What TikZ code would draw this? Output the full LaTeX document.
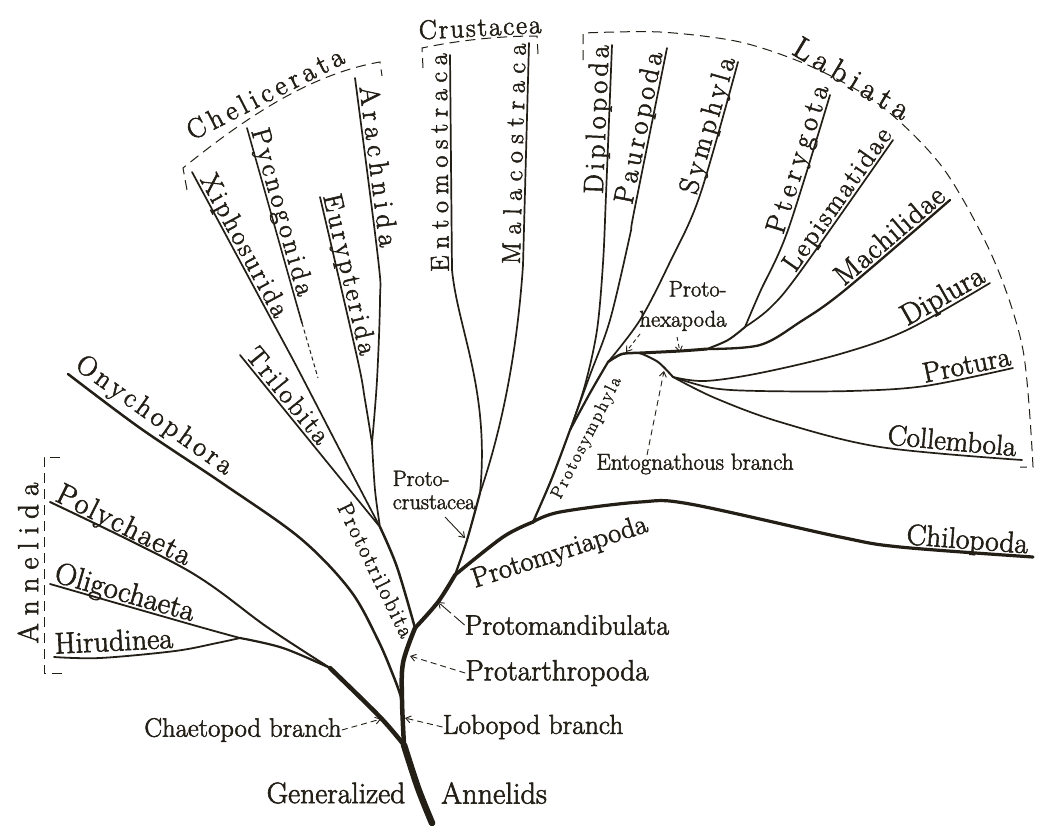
\documentclass[tikz,border=0pt]{standalone}
\usepackage{fontspec}
\setmainfont{lmroman17-regular.otf}[FakeBold=2]
\usetikzlibrary{arrows.meta}
\definecolor{ink}{HTML}{231F17}
\newcommand{\labfont}[1]{\fontsize{#1}{#1}\selectfont}
\makeatletter
\newcommand\spaced[2]{\def\spaced@gap{#1}\spaced@first#2\relax}
\def\spaced@first#1{#1\spaced@loop}
\def\spaced@loop#1{\ifx#1\relax\else\kern\spaced@gap\relax#1\expandafter\spaced@loop\fi}
\makeatother
\tikzset{
  br/.style={draw=ink, line cap=round, line join=round},
  tx/.style={text=ink, inner sep=0pt},
  tl/.style={text=ink, sloped, allow upside down, anchor=south, text depth=0pt, inner xsep=0pt, inner ysep=3pt},
  ann/.style={draw=ink, line width=0.9pt, dash pattern=on 6pt off 4pt, -{Straight Barb[length=5pt,width=7pt]}},
  annsolid/.style={draw=ink, line width=0.9pt, -{Straight Barb[length=5pt,width=7pt]}},
  brk/.style={draw=ink, line width=1pt, dash pattern=on 10pt off 6pt},
  sm/.style={smooth, tension=0.55},
}
\begin{document}
\begin{tikzpicture}[x=1pt, y=-1pt]
\fill[white] (0,0) rectangle (1048,825);
\useasboundingbox (0,0) rectangle (1048,825);

% ---------- branch points ----------
\coordinate (R0) at (432,823);
\coordinate (S1) at (404,745);
\coordinate (C1) at (330,668);
\coordinate (C2) at (240,638);
\coordinate (O1) at (402,700);
\coordinate (P1) at (415,628);
\coordinate (T1) at (380,527);
\coordinate (A1) at (372,443);
\coordinate (K1) at (455,575);
\coordinate (K2) at (480,493);
\coordinate (M1) at (533,522);
\coordinate (M2) at (570,430);
\coordinate (M3) at (608,362);
\coordinate (H0) at (640,353);
\coordinate (H1) at (707,349);
\coordinate (H2) at (745,327);
\coordinate (E1) at (673,377);
% ---------- end points (e) and label knees (k) ----------
\coordinate (ePoly) at (50,502);   \coordinate (kPoly) at (187,570);
\coordinate (eOligo) at (50,584);  \coordinate (kOligo) at (193,625);
\coordinate (eHiru) at (54,657);   \coordinate (kHiru) at (175,651);
\coordinate (eOny) at (68,374);    \coordinate (kOny) at (222,483);
\coordinate (eTri) at (240,355);   \coordinate (kTri) at (318,451);
\coordinate (eXip) at (192,172);   \coordinate (kXip) at (277,330);
\coordinate (ePyc) at (247,128);   \coordinate (kPyc) at (296,302);
\coordinate (ePycS) at (302,323);  \coordinate (ePycD) at (318,378);
\coordinate (eEur) at (320,197);   \coordinate (kEur) at (357,357);
\coordinate (eAra) at (355,78);    \coordinate (kAra) at (378,258);
\coordinate (eEnt) at (450,55);    \coordinate (kEnt) at (452,270);
\coordinate (eMal) at (529,43);    \coordinate (kMal) at (523,265);
\coordinate (eDip) at (612,45);    \coordinate (kDip) at (606,195);
\coordinate (ePau) at (667,48);    \coordinate (kPau) at (634,212);
\coordinate (eSym) at (738,62);    \coordinate (kSym) at (700,195);
\coordinate (ePte) at (830,95);    \coordinate (kPte) at (788,230);
\coordinate (eLep) at (893,140);   \coordinate (kLep) at (800,272);
\coordinate (eMac) at (950,200);   \coordinate (kMac) at (845,290);
\coordinate (eDipl) at (990,283);  \coordinate (kDipl) at (907,330);
\coordinate (ePro) at (1013,368);  \coordinate (kPro) at (925,386);
\coordinate (eCol) at (1022,460);  \coordinate (kCol) at (880,447);
\coordinate (eChi) at (1033,557);  \coordinate (kChi) at (900,547);

% ---------- trunk and main stems ----------
\draw[br, line width=6.5pt] plot[sm] coordinates {(R0) (418,788) (S1)};
\draw[br, line width=4.5pt] plot[sm] coordinates {(S1) (380,717) (C1)};
\draw[br, line width=4.5pt] plot[sm] coordinates {(S1) (O1) (403,663) (P1)};
\draw[br, line width=4pt] plot[sm] coordinates {(P1) (438,602) (K1)};
\draw[br, line width=3.5pt] plot[sm] coordinates {(K1) (503,537) (M1)};
\draw[br, line width=3.2pt] plot[sm] coordinates {(M1) (560,512) (640,502) (690,504) (840,537) (kChi) (eChi)};

% ---------- annelids ----------
\draw[br, line width=2pt] plot[sm] coordinates {(C1) (267,627) (kPoly) (ePoly)};
\draw[br, line width=2.2pt] plot[sm] coordinates {(C1) (283,648) (C2)};
\draw[br, line width=1.8pt] plot[sm] coordinates {(C2) (kOligo) (eOligo)};
\draw[br, line width=1.8pt] plot[sm] coordinates {(C2) (217,643) (kHiru) (100,658) (eHiru)};

% ---------- onychophora ----------
\draw[br, line width=2.5pt] plot[sm] coordinates {(O1) (395,680) (378,640) (350,590) (300,538) (kOny) (140,428) (eOny)};

% ---------- trilobites & chelicerates ----------
\draw[br, line width=2.5pt] plot[sm] coordinates {(P1) (397,567) (T1)};
\draw[br, line width=1.7pt] plot[sm] coordinates {(T1) (kTri) (eTri)};
\draw[br, line width=1.7pt] plot[sm] coordinates {(T1) (345,460) (300,373) (kXip) (eXip)};
\draw[br, line width=1.7pt] plot[sm] coordinates {(T1) (375,490) (A1)};
\draw[br, line width=1.7pt] plot[sm] coordinates {(A1) (365,400) (kEur) (eEur)};
\draw[br, line width=1.7pt] plot[sm] coordinates {(A1) (377,380) (380,300) (kAra) (eAra)};
\draw[br, line width=1.6pt] (ePyc) -- (kPyc) -- (ePycS);
\draw[draw=ink, line width=1pt, dash pattern=on 4pt off 3pt] (ePycS) -- (ePycD);

% ---------- crustaceans ----------
\draw[br, line width=2.2pt] plot[sm] coordinates {(K1) (467,540) (K2)};
\draw[br, line width=1.7pt] (eEnt) -- (kEnt) .. controls (458,330) and (490,390) .. (K2);
\draw[br, line width=1.7pt] (eMal) -- (kMal) .. controls (518,340) and (505,420) .. (K2);

% ---------- myriapods ----------
\draw[br, line width=2.2pt] plot[sm] coordinates {(M1) (552,478) (M2)};
\draw[br, line width=2.2pt] plot[sm] coordinates {(M2) (590,393) (M3)};
\draw[br, line width=2.5pt] plot[sm] coordinates {(M3) (622,354) (H0)};
\draw[br, line width=1.7pt] plot[sm] coordinates {(M2) (585,385) (597,330) (603,263) (kDip) (eDip)};
\draw[br, line width=1.7pt] plot[sm] coordinates {(M2) (590,375) (610,320) (630,235) (kPau) (ePau)};
\draw[br, line width=1.7pt] plot[sm] coordinates {(M3) (640,320) (670,262) (kSym) (eSym)};

% ---------- hexapods ----------
\draw[br, line width=3pt] plot[sm] coordinates {(H0) (680,351) (H1)};
\draw[br, line width=2.3pt] plot[sm] coordinates {(H1) (760,345) (800,322) (kMac) (eMac)};
\draw[br, line width=2pt] plot[sm] coordinates {(H1) (728,340) (H2)};
\draw[br, line width=1.7pt] plot[sm] coordinates {(H2) (760,292) (kPte) (ePte)};
\draw[br, line width=1.7pt] plot[sm] coordinates {(H2) (770,308) (kLep) (eLep)};
\draw[br, line width=2pt] plot[sm] coordinates {(H0) (658,362) (E1)};
\draw[br, line width=1.7pt] plot[sm] coordinates {(E1) (705,381) (760,373) (840,354) (kDipl) (eDipl)};
\draw[br, line width=1.7pt] plot[sm] coordinates {(E1) (712,388) (760,391) (850,391) (kPro) (ePro)};
\draw[br, line width=1.7pt] plot[sm] coordinates {(E1) (715,398) (780,422) (kCol) (eCol)};

% ---------- brackets ----------
\draw[brk] (60,457) -- (44,457) -- (44,673) -- (62,673);
\draw[brk] (187,190) -- (183,168) .. controls (245,118) and (310,74) .. (380,62) -- (382,76);
\draw[brk] (423,68) -- (422,48) .. controls (460,40) and (500,36) .. (537,36) -- (538,54);
\draw[brk] (583,60) -- (583,33) -- plot[smooth] coordinates {(583,33) (660,32) (740,42) (810,66) (880,105) (943,168) (993,258) (1023,350) (1033,467)} -- (1020,467);

% ---------- taxon labels sitting on their branches ----------
\path (ePoly) -- node[tl, font=\labfont{30}] (poly) {\spaced{1.6pt}{Polychaeta}} (kPoly);
\path (eOligo) -- node[tl, font=\labfont{30.5}] (oligo) {Oligochaeta} (kOligo);
\path (eHiru) -- node[tl, font=\labfont{30}] (hiru) {Hirudinea} (kHiru);
\path (eOny) -- node[tl, inner ysep=8pt, font=\labfont{28}] (ony) {\spaced{3.5pt}{Onychophora}} (kOny);
\path (eTri) -- node[tl, font=\labfont{27}] (tri) {\spaced{2.5pt}{Trilobita}} (kTri);
\path (eXip) -- node[tl, font=\labfont{27}] (xip) {\spaced{2.7pt}{Xiphosurida}} (kXip);
\path (ePyc) -- node[tl, font=\labfont{27}] (pyc) {\spaced{3.4pt}{Pycnogonida}} (kPyc);
\path (eEur) -- node[tl, font=\labfont{27}] (eur) {\spaced{3.4pt}{Eurypterida}} (kEur);
\path (eAra) -- node[tl, font=\labfont{28}] (ara) {\spaced{5.7pt}{Arachnida}} (kAra);
\path (kEnt) -- node[tl, font=\labfont{26}] (ento) {\spaced{6.7pt}{Entomostraca}} (eEnt);
\path (kMal) -- node[tl, font=\labfont{26}] (mala) {\spaced{7.6pt}{Malacostraca}} (eMal);
\path (kDip) -- node[tl, font=\labfont{28}] (dipl) {\spaced{4.2pt}{Diplopoda}} (eDip);
\path (kPau) -- node[tl, font=\labfont{28}] (paur) {\spaced{4.1pt}{Pauropoda}} (ePau);
\path (kSym) -- node[tl, font=\labfont{28}] (symp) {\spaced{4.2pt}{Symphyla}} (eSym);
\path (kPte) -- node[tl, font=\labfont{28}] (pter) {\spaced{5.4pt}{Pterygota}} (ePte);
\path (kLep) -- node[tl, font=\labfont{27}] (lepi) {\spaced{2.3pt}{Lepismatidae}} (eLep);
\path (kMac) -- node[tl, font=\labfont{29}] (mach) {\spaced{1pt}{Machilidae}} (eMac);
\path (kDipl) -- node[tl, font=\labfont{30}] (dipu) {Diplura} (eDipl);
\path (kPro) -- node[tl, font=\labfont{28.5}] (protu) {Protura} (ePro);
\path (kCol) -- node[tl, font=\labfont{28.8}] (coll) {Collembola} (eCol);
\path (kChi) -- node[tl, font=\labfont{29.5}] (chil) {Chilopoda} (eChi);

% ---------- group labels ----------
\node[tx, rotate=90, font=\labfont{29}] (annelida) at (28,563) {\spaced{8.1pt}{Annelida}};
\node[tx, rotate=27, font=\labfont{28}] (chel) at (265,93) {\spaced{4.6pt}{Chelicerata}};
\node[tx, rotate=3, font=\labfont{27}] (crus) at (480,27) {\spaced{1.9pt}{Crustacea}};
\node[tx, rotate=-31, font=\labfont{31}] (labi) at (852,78) {\spaced{5.9pt}{Labiata}};

% ---------- ancestral labels ----------
\node[tx, rotate=18, font=\labfont{28}] (pmyr) at (560,553) {Protomyriapoda};
\node[tx, rotate=-64, font=\labfont{22}] (ptri) at (376,570) {\spaced{2pt}{Prototrilobita}};
\node[tx, rotate=63, font=\labfont{17.5}] (psym) at (587,438) {\spaced{2.3pt}{Protosymphyla}};
\node[tx, font=\labfont{28}] (pman) at (567,625) {Protomandibulata};
\node[tx, font=\labfont{29.2}] (part) at (557,673) {Protarthropoda};
\node[tx, font=\labfont{27.4}] (lobo) at (533,727) {Lobopod branch};
\node[tx, font=\labfont{26.6}] (chae) at (243,730) {Chaetopod branch};
\node[tx, font=\labfont{29.6}] (gen) at (336,793) {Generalized};
\node[tx, font=\labfont{30.3}] (anl) at (494,793) {Annelids};
\node[tx, font=\labfont{22.2}, align=left] (pcru) at (434,490) {Proto-\\[1pt]crustacea};
\node[tx, font=\labfont{22.6}, align=right] (phex) at (683,306) {Proto-\\[7.5pt]hexapoda};
\node[tx, font=\labfont{23}] (entb) at (695,464) {Entognathous branch};

% ---------- pointer arrows ----------
\coordinate (tChae) at (381,719);
\coordinate (tLobo) at (405,718);
\coordinate (tPart) at (410,656);
\coordinate (tPman) at (438,602);
\coordinate (sPcru) at (445,517);
\coordinate (tPcru) at (465,538);
\coordinate (sHexA) at (640,334);
\coordinate (tHexA) at (626,352);
\coordinate (sHexB) at (677,337);
\coordinate (tHexB) at (680,352);
\coordinate (sEntb) at (647,455);
\coordinate (tEntb) at (664,371);
\draw[ann] (chae.east) -- (tChae);
\draw[ann] (lobo.west) -- (tLobo);
\draw[ann] (part.west) -- (tPart);
\draw[ann, dash pattern=on 14pt off 4pt] (pman.west) -- (tPman);
\draw[annsolid] (sPcru) -- (tPcru);
\draw[ann, dash pattern=on 4pt off 3pt] (sHexA) -- (tHexA);
\draw[ann, dash pattern=on 4pt off 3pt] (sHexB) -- (tHexB);
\draw[ann] (sEntb) -- (tEntb);
\end{tikzpicture}
\end{document}
